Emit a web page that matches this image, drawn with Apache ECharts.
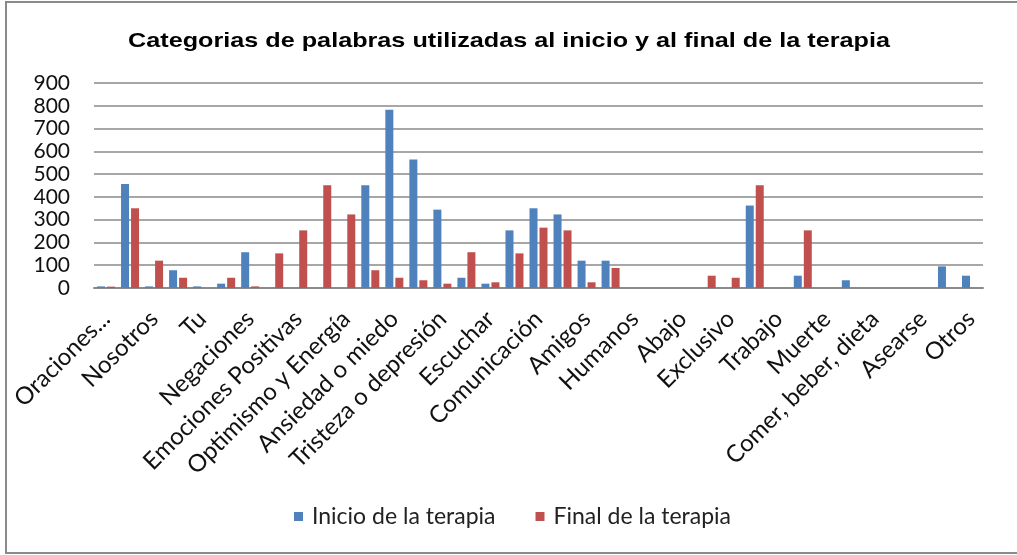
<!DOCTYPE html>
<html>
<head>
<meta charset="utf-8">
<script src="https://cdn.jsdelivr.net/npm/echarts@6/dist/echarts.min.js"></script>
<style>
  html, body { margin: 0; padding: 0; background: #fff; }
  #chart { width: 1017px; height: 555px; }
</style>
</head>
<body>
<div id="chart"></div>
<script>
// Categorías (solo las pares llevan etiqueta visible en el original)
const categorias = [
    'Oraciones...', '', 'Nosotros', '', 'Tu', '', 'Negaciones', '',
    'Emociones Positivas', '', 'Optimismo y Energía', '', 'Ansiedad o miedo', '',
    'Tristeza o depresión', '', 'Escuchar', '', 'Comunicación', '', 'Amigos', '',
    'Humanos', '', 'Abajo', '', 'Exclusivo', '', 'Trabajo', '', 'Muerte', '',
    'Comer, beber, dieta', '', 'Asearse', '', 'Otros'
];

const inicio = [
    7, 457, 7, 78, 7, 19, 157, 0, 0, 0, 0, 451, 783, 564, 344, 45, 19, 253,
    350, 323, 120, 120, 0, 0, 0, 0, 0, 362, 0, 54, 0, 34, 0, 0, 0, 95, 54
];

const final = [
    6, 350, 120, 45, 0, 45, 7, 152, 253, 451, 323, 78, 45, 34, 19, 157, 25, 152,
    265, 253, 25, 88, 0, 0, 0, 54, 45, 451, 0, 253, 0, 0, 0, 0, 0, 0, 0
];

const yTicks = { min: 0, max: 900, interval: 100 };

const titulo = 'Categorias de palabras utilizadas al inicio y al final de la terapia';

const chart = echarts.init(document.getElementById('chart'), null, { renderer: 'canvas' });

const labelFont = 'Lato, "Open Sans", sans-serif';

chart.setOption({
    animation: false,
    backgroundColor: '#fff',
    graphic: [{
        type: 'rect',
        shape: { x: 6, y: 2, width: 1030, height: 551 },
        style: { fill: 'none', stroke: '#8a8a8a', lineWidth: 2 },
        silent: true
    }, {
        // título algo ensanchado, como en el original
        type: 'text',
        x: 509,
        y: 41,
        scaleX: 1.2,
        style: {
            text: titulo,
            font: 'bold 21px "Liberation Sans", Arial, sans-serif',
            fill: '#000',
            align: 'center',
            verticalAlign: 'middle'
        },
        silent: true
    }],
    legend: {
        left: 289,
        top: 500,
        itemWidth: 9,
        itemHeight: 9,
        itemGap: 40,
        icon: 'rect',
        textStyle: { fontFamily: labelFont, fontSize: 23, color: '#222', padding: [0, 0, 0, 4] },
        data: ['Inicio de la terapia', 'Final de la terapia']
    },
    grid: { left: 94, right: 34, top: 83, bottom: 267, containLabel: false },
    xAxis: {
        type: 'category',
        data: categorias,
        axisLine: { lineStyle: { color: '#8a8a8a', width: 2 } },
        axisTick: { show: false },
        axisLabel: {
            interval: 0,
            rotate: 45,
            margin: 27,
            verticalAlign: 'middle',
            fontFamily: labelFont,
            fontSize: 24,
            color: '#111'
        }
    },
    yAxis: {
        type: 'value',
        min: yTicks.min,
        max: yTicks.max,
        interval: yTicks.interval,
        axisLine: { show: false },
        axisTick: { show: false },
        axisLabel: { margin: 24, fontFamily: labelFont, fontSize: 21, color: '#111' },
        splitLine: { lineStyle: { color: '#8a8a8a', width: 1.5 } }
    },
    series: [{
        name: 'Inicio de la terapia',
        type: 'bar',
        data: inicio,
        barWidth: 8,
        barGap: '25%',
        itemStyle: { color: '#4F81BD' }
    }, {
        name: 'Final de la terapia',
        type: 'bar',
        data: final,
        barWidth: 8,
        itemStyle: { color: '#C0504D' }
    }]
});
</script>
</body>
</html>
